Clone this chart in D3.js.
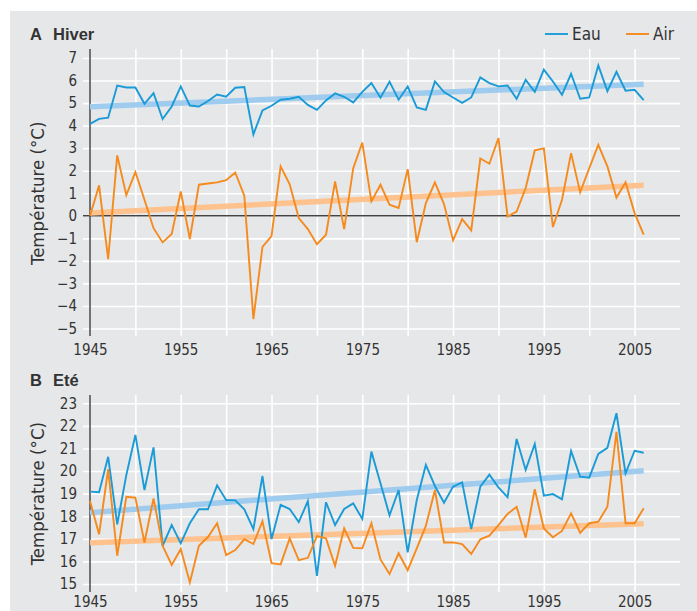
<!DOCTYPE html>
<html>
<head>
<meta charset="utf-8">
<script src="https://cdn.jsdelivr.net/npm/d3@7"></script>
<style>
  body { margin: 0; background: #fff; }
  svg text { font-family: "Liberation Sans Narrow", "DejaVu Sans Condensed", "Roboto", sans-serif; fill: #333; }
</style>
</head>
<body>
<div id="chart"></div>
<script>
const years = d3.range(1945, 2007);

// A - Hiver
const hiverEau = [4.08, 4.30, 4.35, 5.78, 5.69, 5.69, 4.97, 5.44, 4.29, 4.85,
  5.74, 4.89, 4.85, 5.09, 5.38, 5.28, 5.68, 5.71, 3.61, 4.67,
  4.88, 5.15, 5.19, 5.28, 4.92, 4.70, 5.12, 5.43, 5.28, 5.03,
  5.50, 5.89, 5.24, 5.95, 5.15, 5.74, 4.81, 4.70, 5.96, 5.49,
  5.25, 5.01, 5.25, 6.14, 5.89, 5.74, 5.78, 5.19, 6.03, 5.50,
  6.48, 5.96, 5.37, 6.30, 5.19, 5.25, 6.67, 5.53, 6.39, 5.55,
  5.59, 5.13];
const hiverAir = [0.00, 1.35, -1.92, 2.68, 0.92, 1.94, 0.71, -0.55, -1.18, -0.81,
  1.08, -1.03, 1.38, 1.43, 1.48, 1.58, 1.92, 0.89, -4.58, -1.38,
  -0.90, 2.19, 1.40, -0.10, -0.59, -1.26, -0.84, 1.52, -0.59, 2.11,
  3.25, 0.64, 1.38, 0.49, 0.35, 2.07, -1.17, 0.56, 1.48, 0.52,
  -1.09, -0.15, -0.65, 2.54, 2.31, 3.45, -0.03, 0.19, 1.23, 2.90,
  2.99, -0.50, 0.71, 2.78, 1.04, 2.11, 3.15, 2.19, 0.81, 1.48,
  0.12, -0.84];
const hiverEauTrend = [4.84, 5.84];
const hiverAirTrend = [0.12, 1.36];

// B - Eté
const eteEau = [19.09, 19.06, 20.63, 17.64, 19.82, 21.60, 19.16, 21.05, 16.69, 17.61,
  16.80, 17.69, 18.31, 18.31, 19.37, 18.72, 18.70, 18.31, 17.43, 19.78,
  16.99, 18.50, 18.32, 17.74, 18.67, 15.36, 18.62, 17.61, 18.32, 18.57,
  17.88, 20.86, 19.46, 18.04, 19.16, 16.40, 18.72, 20.27, 19.34, 18.60,
  19.31, 19.50, 17.43, 19.31, 19.84, 19.28, 18.84, 21.42, 20.05, 21.20,
  18.91, 18.98, 18.75, 20.89, 19.75, 19.71, 20.76, 21.03, 22.56, 19.90,
  20.90, 20.81];
const eteAir = [18.67, 17.20, 20.08, 16.25, 18.86, 18.82, 16.84, 18.79, 16.69, 15.84,
  16.55, 15.07, 16.69, 17.08, 17.69, 16.28, 16.50, 16.98, 16.77, 17.78,
  15.92, 15.87, 17.02, 16.06, 16.16, 17.12, 17.02, 15.81, 17.46, 16.60,
  16.58, 17.69, 16.09, 15.44, 16.36, 15.61, 16.58, 17.57, 19.16, 16.84,
  16.84, 16.77, 16.33, 16.98, 17.14, 17.61, 18.10, 18.42, 17.05, 19.20,
  17.46, 17.07, 17.35, 18.13, 17.27, 17.69, 17.76, 18.42, 21.74, 17.69,
  17.69, 18.35];
const eteEauTrend = [18.16, 20.01];
const eteAirTrend = [16.83, 17.67];
const trendYears = [1945, 2006];

const xLabels = [1945, 1955, 1965, 1975, 1985, 1995, 2005];
const xGrid = [1950, 1955, 1960, 1965, 1970, 1975, 1980, 1985, 1990, 1995, 2000, 2005];
const hiverTicks = [-5, -4, -3, -2, -1, 0, 1, 2, 3, 4, 5, 6, 7];
const eteTicks = [15, 16, 17, 18, 19, 20, 21, 22, 23];

const colEau = "#1a9bd7", colAir = "#f58a1f";
const colEauTrend = "#9ecbee", colAirTrend = "#fdc28e";

const W = 697, H = 611;
const svg = d3.select("#chart").append("svg").attr("width", W).attr("height", H);
svg.append("rect").attr("x", 10).attr("y", 11).attr("width", W - 10).attr("height", H - 11).attr("fill", "#e6e7e8");

const x = d3.scaleLinear().domain([1945, 2010]).range([90, 680]);

function panel(opts) {
  const y = d3.scaleLinear().domain(opts.domain).range(opts.range);
  const g = svg.append("g");

  // horizontal grid
  g.append("g")
    .attr("transform", "translate(680,0)")
    .call(d3.axisLeft(y).tickValues(opts.ticks).tickSize(597).tickFormat(""))
    .call(a => a.select(".domain").remove())
    .call(a => a.selectAll("line").attr("stroke", "#fff").attr("stroke-width", 1.6));

  // vertical grid
  g.append("g")
    .attr("transform", `translate(0,${opts.top})`)
    .call(d3.axisBottom(x).tickValues(xGrid).tickSize(opts.bottom - opts.top).tickFormat(""))
    .call(a => a.select(".domain").remove())
    .call(a => a.selectAll("line").attr("stroke", "#fff").attr("stroke-width", 1.6));

  // y labels
  g.append("g")
    .attr("transform", "translate(90,0)")
    .call(d3.axisLeft(y).tickValues(opts.ticks).tickSize(0).tickPadding(13)
      .tickFormat(d => d < 0 ? "\u2212" + Math.abs(d) : d))
    .call(a => a.select(".domain").remove())
    .call(a => a.selectAll("text").style("font-size", "15px").attr("fill", "#333"));

  // x labels
  g.append("g")
    .attr("transform", `translate(0,${opts.bottom})`)
    .call(d3.axisBottom(x).tickValues(xLabels).tickSize(0).tickPadding(opts.labelPad).tickFormat(d3.format("d")))
    .call(a => a.select(".domain").remove())
    .call(a => a.selectAll("text").style("font-size", "15px").attr("fill", "#333"));

  // y axis line
  g.append("line").attr("x1", 90).attr("x2", 90).attr("y1", opts.top).attr("y2", opts.bottom)
    .attr("stroke", "#555").attr("stroke-width", 1.6);

  if (opts.zero) {
    g.append("line").attr("x1", 83).attr("x2", 680).attr("y1", y(0)).attr("y2", y(0))
      .attr("stroke", "#444").attr("stroke-width", 1.6);
  }

  // trends
  const trendLine = d3.line().x((d, i) => x(trendYears[i])).y(d => y(d));
  g.append("path").datum(opts.eauTrend).attr("d", trendLine)
    .attr("fill", "none").attr("stroke", colEauTrend).attr("stroke-width", 5.5);
  g.append("path").datum(opts.airTrend).attr("d", trendLine)
    .attr("fill", "none").attr("stroke", colAirTrend).attr("stroke-width", 5.5);

  const line = d3.line().x((d, i) => x(years[i])).y(d => y(d));
  [[opts.eau, colEau], [opts.air, colAir]].forEach(([data, c]) => {
    g.append("path").datum(data).attr("d", line)
      .attr("fill", "none").attr("stroke", c).attr("stroke-width", 1.9).attr("stroke-linejoin", "miter");
  });

  // title
  const t = svg.append("text").attr("x", 30).attr("y", opts.titleY)
    .style("font-family", "'Liberation Sans', Arial, sans-serif")
    .style("font-size", "16.5px").style("font-weight", "bold").attr("fill", "#222");
  t.append("tspan").text(opts.letter);
  t.append("tspan").attr("x", 53).text(opts.title);

  // y title
  const cy = (opts.range[0] + opts.range[1]) / 2;
  svg.append("text")
    .attr("transform", `translate(44,${cy}) rotate(-90)`)
    .attr("text-anchor", "middle")
    .style("font-size", "18.5px")
    .text("Température (°C)");
}

panel({
  domain: [-5, 7], range: [328.5, 58], ticks: hiverTicks, top: 49, bottom: 336, labelPad: 8,
  eau: hiverEau, air: hiverAir, eauTrend: hiverEauTrend, airTrend: hiverAirTrend,
  zero: true, letter: "A", title: "Hiver", titleY: 40
});

panel({
  domain: [15, 23], range: [584, 403.3], ticks: eteTicks, top: 395, bottom: 592, labelPad: 4,
  eau: eteEau, air: eteAir, eauTrend: eteEauTrend, airTrend: eteAirTrend,
  zero: false, letter: "B", title: "Eté", titleY: 386
});

// legend
const legend = [["Eau", colEau, 545], ["Air", colAir, 626]];
legend.forEach(([name, c, lx]) => {
  svg.append("line").attr("x1", lx).attr("x2", lx + 23).attr("y1", 34).attr("y2", 34)
    .attr("stroke", c).attr("stroke-width", 1.9);
  svg.append("text").attr("x", lx + 27).attr("y", 40).style("font-size", "17px").text(name);
});
</script>
</body>
</html>
